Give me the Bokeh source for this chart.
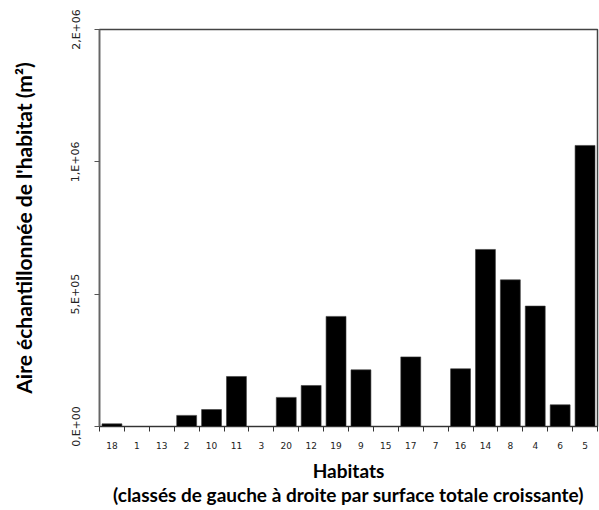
from bokeh.plotting import figure
from bokeh.models import Range1d, FixedTicker
from bokeh.embed import file_html
from bokeh.resources import INLINE

# Habitats ordered by increasing total surface
habitats = ["18", "1", "13", "2", "10", "11", "3", "20", "12", "19",
            "9", "15", "17", "7", "16", "14", "8", "4", "6", "5"]
# Sampled area per habitat (m²)
sampled_area = [1.0e4, 0, 0, 4.2e4, 6.4e4, 1.89e5, 0, 1.10e5, 1.55e5, 4.16e5,
                2.14e5, 0, 2.63e5, 0, 2.18e5, 6.69e5, 5.54e5, 4.55e5, 8.2e4, 1.062e6]

y_ticks = [0, 500000, 1000000, 1500000]
y_tick_labels = ["0,E+00", "5,E+05", "1,E+06", "2,E+06"]

positions = list(range(1, len(habitats) + 1))

p = figure(width=599, height=510, output_backend="svg", toolbar_location=None,
           x_range=Range1d(0.5, len(habitats) + 0.5),
           y_range=Range1d(0, 1500000),
           min_border_left=99, min_border_right=2,
           min_border_top=29, min_border_bottom=84)

p.vbar(x=positions, top=sampled_area, width=0.8, bottom=0,
       fill_color="black", line_color="#3a3a3a", line_width=0.6)

p.xgrid.visible = False
p.ygrid.visible = False
p.background_fill_color = "white"
p.border_fill_color = "white"
p.outline_line_color = "#444444"
p.outline_line_width = 1.5

# x axis: labels under bars, tick marks between categories
xa = p.xaxis[0]
xa.ticker = FixedTicker(ticks=positions,
                        minor_ticks=[i + 0.5 for i in range(0, len(habitats) + 1)])
xa.major_label_overrides = {i: h for i, h in zip(positions, habitats)}
xa.major_tick_in = 0
xa.major_tick_out = 0
xa.minor_tick_in = 0
xa.minor_tick_out = 5
xa.minor_tick_line_color = "#333333"
xa.axis_line_color = "#333333"
xa.axis_line_width = 1.2
xa.major_label_text_font = "DejaVu Sans"
xa.major_label_text_font_size = "9px"
xa.major_label_text_color = "#222222"
xa.major_label_standoff = 10
xa.axis_label = "Habitats\n(classés de gauche à droite par surface totale croissante)"
xa.axis_label_text_font = "Lato"
xa.axis_label_text_font_style = "bold"
xa.axis_label_text_font_size = "19px"
xa.axis_label_text_color = "black"
xa.axis_label_text_line_height = 1.05
xa.axis_label_standoff = 7

# y axis
ya = p.yaxis[0]
ya.ticker = FixedTicker(ticks=y_ticks, minor_ticks=[])
ya.major_label_overrides = {t: l for t, l in zip(y_ticks, y_tick_labels)}
ya.major_label_orientation = "vertical"
ya.major_tick_in = 0
ya.major_tick_out = 5
ya.major_tick_line_color = "#555555"
ya.axis_line_color = "#666666"
ya.axis_line_width = 1.5
ya.major_label_text_font = "DejaVu Sans"
ya.major_label_text_font_size = "11px"
ya.major_label_text_color = "#222222"
ya.major_label_standoff = 12
ya.axis_label = "Aire échantillonnée de l'habitat (m²)"
ya.axis_label_text_font = "Lato"
ya.axis_label_text_font_style = "bold"
ya.axis_label_text_font_size = "21px"
ya.axis_label_text_color = "black"
ya.axis_label_standoff = 31

open("out.html", "w").write(file_html(p, INLINE))
